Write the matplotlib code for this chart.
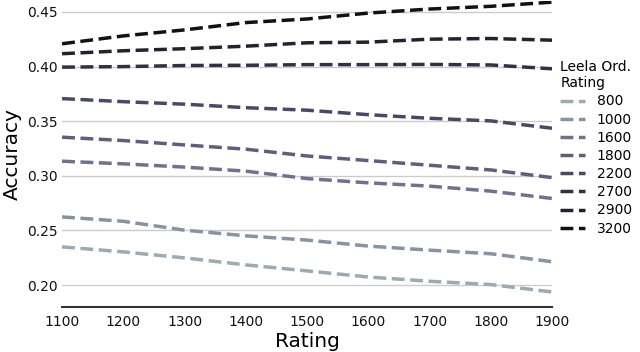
import matplotlib
matplotlib.use("Agg")
import matplotlib.pyplot as plt

ratings = [1100, 1200, 1300, 1400, 1500, 1600, 1700, 1800, 1900]
leela_labels = ["800", "1000", "1600", "1800", "2200", "2700", "2900", "3200"]

acc_800 = [0.235, 0.2304, 0.2249, 0.2185, 0.2130, 0.2074, 0.2035, 0.2005, 0.1937]
acc_1000 = [0.2624, 0.2584, 0.2503, 0.2451, 0.2412, 0.2357, 0.2320, 0.2287, 0.2214]
acc_1600 = [0.3134, 0.3110, 0.3080, 0.3043, 0.2975, 0.2936, 0.2906, 0.2860, 0.2793]
acc_1800 = [0.3354, 0.3323, 0.3283, 0.3244, 0.3182, 0.3140, 0.3097, 0.3054, 0.2984]
acc_2200 = [0.3707, 0.3679, 0.3656, 0.3624, 0.3601, 0.3560, 0.3527, 0.3503, 0.3436]
acc_2700 = [0.3995, 0.4000, 0.4010, 0.4012, 0.4018, 0.4018, 0.4020, 0.4015, 0.3980]
acc_2900 = [0.4118, 0.4145, 0.4164, 0.4187, 0.4218, 0.4224, 0.4251, 0.4257, 0.4242]
acc_3200 = [0.4209, 0.4281, 0.4336, 0.4403, 0.4436, 0.4490, 0.4527, 0.4552, 0.4590]

series = [acc_800, acc_1000, acc_1600, acc_1800, acc_2200, acc_2700, acc_2900, acc_3200]
colors = ["#9aabb4", "#8593a2", "#6d738e", "#5c607e", "#464a68", "#2f3145", "#222230", "#121214"]

fig = plt.figure(figsize=(6.4, 3.52), dpi=100)
ax = fig.add_axes([0.097, 0.128, 0.7656, 0.869])

for vals, lab, c in zip(series, leela_labels, colors):
    ax.plot(ratings, vals, linestyle="--", color=c, linewidth=2.5, label=lab)

ax.set_xlim(1100, 1900)
ax.set_ylim(0.18, 0.46)
ax.set_xticks(ratings)
ax.set_yticks([0.20, 0.25, 0.30, 0.35, 0.40, 0.45])
ax.set_yticklabels(["0.20", "0.25", "0.30", "0.35", "0.40", "0.45"])
ax.grid(axis="y", color="#cccccc", linewidth=1.0)
ax.grid(axis="x", visible=False)
ax.set_axisbelow(True)
for s in ["top", "right", "left"]:
    ax.spines[s].set_visible(False)
ax.spines["bottom"].set_color("#333333")
ax.spines["bottom"].set_linewidth(1.5)
ax.tick_params(axis="both", length=0, labelsize=10, colors="#111111")
ax.tick_params(axis="y", pad=3)
ax.tick_params(axis="x", pad=6)
ax.set_xlabel("Rating", fontsize=14.5, labelpad=2)
ax.set_ylabel("Accuracy", fontsize=14.5, labelpad=4)

leg = ax.legend(title="Leela Ord.\nRating", loc="center left", bbox_to_anchor=(1.0, 0.52),
                frameon=False, fontsize=10, title_fontsize=10, handlelength=1.8,
                labelspacing=0.3, borderaxespad=0.2)
leg._legend_box.align = "left"

fig.savefig("out.png", dpi=100, facecolor="white")
